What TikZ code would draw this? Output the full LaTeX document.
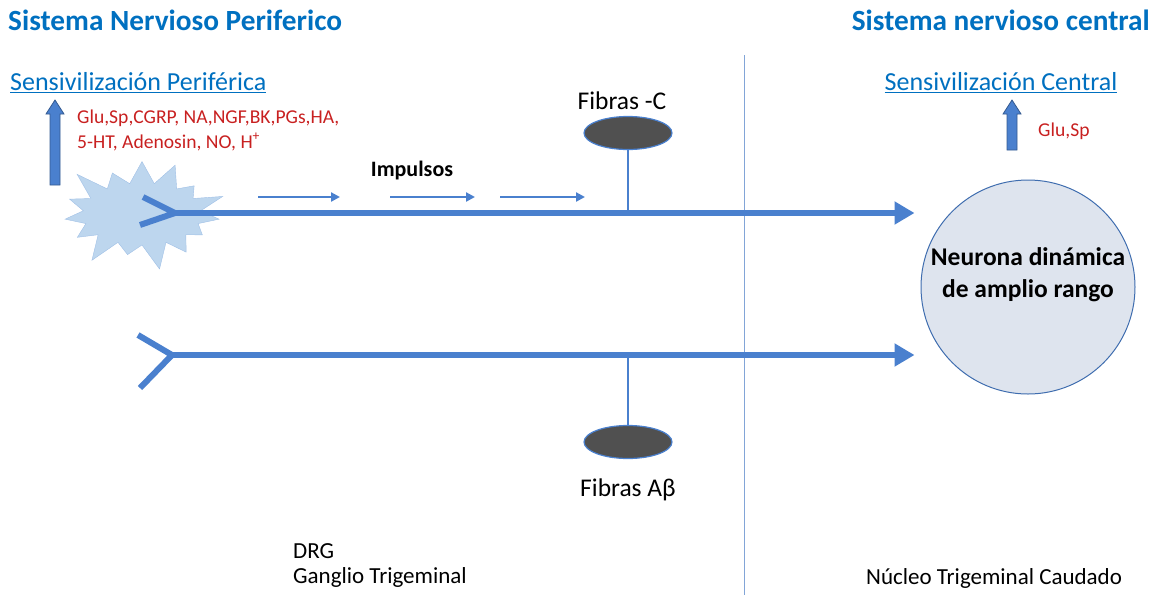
\documentclass[tikz,border=0pt]{standalone}
\usepackage{fontspec}
\setmainfont{Carlito}
\usetikzlibrary{arrows.meta,shapes.geometric,shapes.symbols,positioning}
\definecolor{titleblue}{RGB}{0,112,192}
\definecolor{axonblue}{RGB}{74,128,206}
\definecolor{burstblue}{RGB}{189,214,238}
\definecolor{somagray}{RGB}{80,80,80}
\definecolor{mediatorred}{RGB}{200,32,32}
\definecolor{neurongray}{RGB}{222,228,238}
\definecolor{divline}{RGB}{130,165,215}

\begin{document}
\begin{tikzpicture}[x=1pt,y=-1pt,
  titulo/.style={font=\bfseries\fontsize{29.3}{34}\selectfont,text=titleblue,inner sep=0},
  sensib/.style={font=\fontsize{26}{30}\selectfont,text=titleblue,inner sep=0},
  mediador/.style={font=\fontsize{19.6}{24.5}\selectfont,text=mediatorred,inner sep=0,align=left},
  etiqueta/.style={font=\fontsize{25.5}{30}\selectfont,inner sep=0},
  pie/.style={font=\fontsize{23}{25}\selectfont,inner sep=0,align=left},
  axon/.style={draw=axonblue,line width=6pt},
  impulso/.style={draw=axonblue,line width=2.2pt,-{Triangle[length=9pt,width=9pt]}},
  tallo/.style={draw=axonblue,line width=2.8pt},
  soma/.style={ellipse,minimum width=88pt,minimum height=33pt,fill=somagray,draw=axonblue,line width=1.2pt},
  flechaarriba/.style={fill=axonblue,draw=axonblue!70!black,line width=0.8pt}]
\useasboundingbox (0,0) rectangle (1157,595);

% titulos
\node[titulo,anchor=west] (tperif) at (8,20) {Sistema Nervioso Periferico};
\node[titulo,anchor=east] (tcentral) at (1150,20) {Sistema nervioso central};
\draw[divline,line width=1pt] (744,55) -- (744,595);

% sensibilizacion periferica
\node[sensib,anchor=west] (sperif) at (10,83) {\underline{Sensivilización Periférica}};
\node[mediador,anchor=north west] (medperif) at (77,110) {Glu,Sp,CGRP, NA,NGF,BK,PGs,HA,\\5-HT, Adenosin, NO, H\textsuperscript{+}};
\filldraw[flechaarriba] (50,185) -- (50,114) -- (46,114) -- (55,100) -- (64,114) -- (60,114) -- (60,185) -- cycle;

\node[starburst,starburst points=15,starburst point height=30pt,minimum width=178pt,minimum height=122pt,
  fill=burstblue,draw=burstblue!75!axonblue] (estimulo) at (142,214) {};

% neurona central
\node[circle,minimum size=214pt,fill=neurongray,draw=axonblue!85!black,line width=1pt] (neurona) at (1028,287) {};
\node[font=\bfseries\fontsize{25.5}{32}\selectfont,align=center,inner sep=0] (neutexto) at (1028,275)
  {Neurona dinámica\\de amplio rango};

% fibra C
\coordinate (horqC) at (175,213);
\draw[axon] (143,197) -- (horqC) -- (140,225);
\draw[axon,-{Triangle[length=20pt,width=22pt]}] (horqC) -- ([xshift=-6pt]horqC -| neurona.west);
\foreach \xa/\xb in {258/340,390/475,500/585}
  \draw[impulso] (\xa,197) -- (\xb,197);
\node[font=\bfseries\fontsize{22}{26}\selectfont,inner sep=0] (impulsos) at (412,171) {Impulsos};
\node[soma] (somaC) at (628,133) {};
\node[etiqueta] (fibC) at (622,101) {Fibras -C};
\draw[tallo] (somaC.south) -- (somaC.south |- horqC);

% fibra A beta
\coordinate (horqA) at (172,355);
\draw[axon] (138,335) -- (horqA) -- (140,388);
\draw[axon,-{Triangle[length=20pt,width=22pt]}] (horqA) -- ([xshift=-6pt]horqA -| neurona.west);
\node[soma] (somaA) at (628,442) {};
\node[etiqueta] (fibA) at (628,490) {Fibras Aβ};
\draw[tallo] (somaA.north) -- (somaA.north |- horqA);

% sensibilizacion central
\node[sensib] (scentral) at (1001,83) {\underline{Sensivilización Central}};
\filldraw[flechaarriba] (1007,150) -- (1007,114) -- (1003,114) -- (1012,100) -- (1021,114) -- (1017,114) -- (1017,150) -- cycle;
\node[mediador,anchor=west] (medcentral) at (1038,131) {Glu,Sp};

% pies
\node[pie,anchor=north west] (drg) at (293,543) {DRG\\Ganglio Trigeminal};
\node[pie,anchor=west] (nucleo) at (866,578) {Núcleo Trigeminal Caudado};
\end{tikzpicture}
\end{document}
